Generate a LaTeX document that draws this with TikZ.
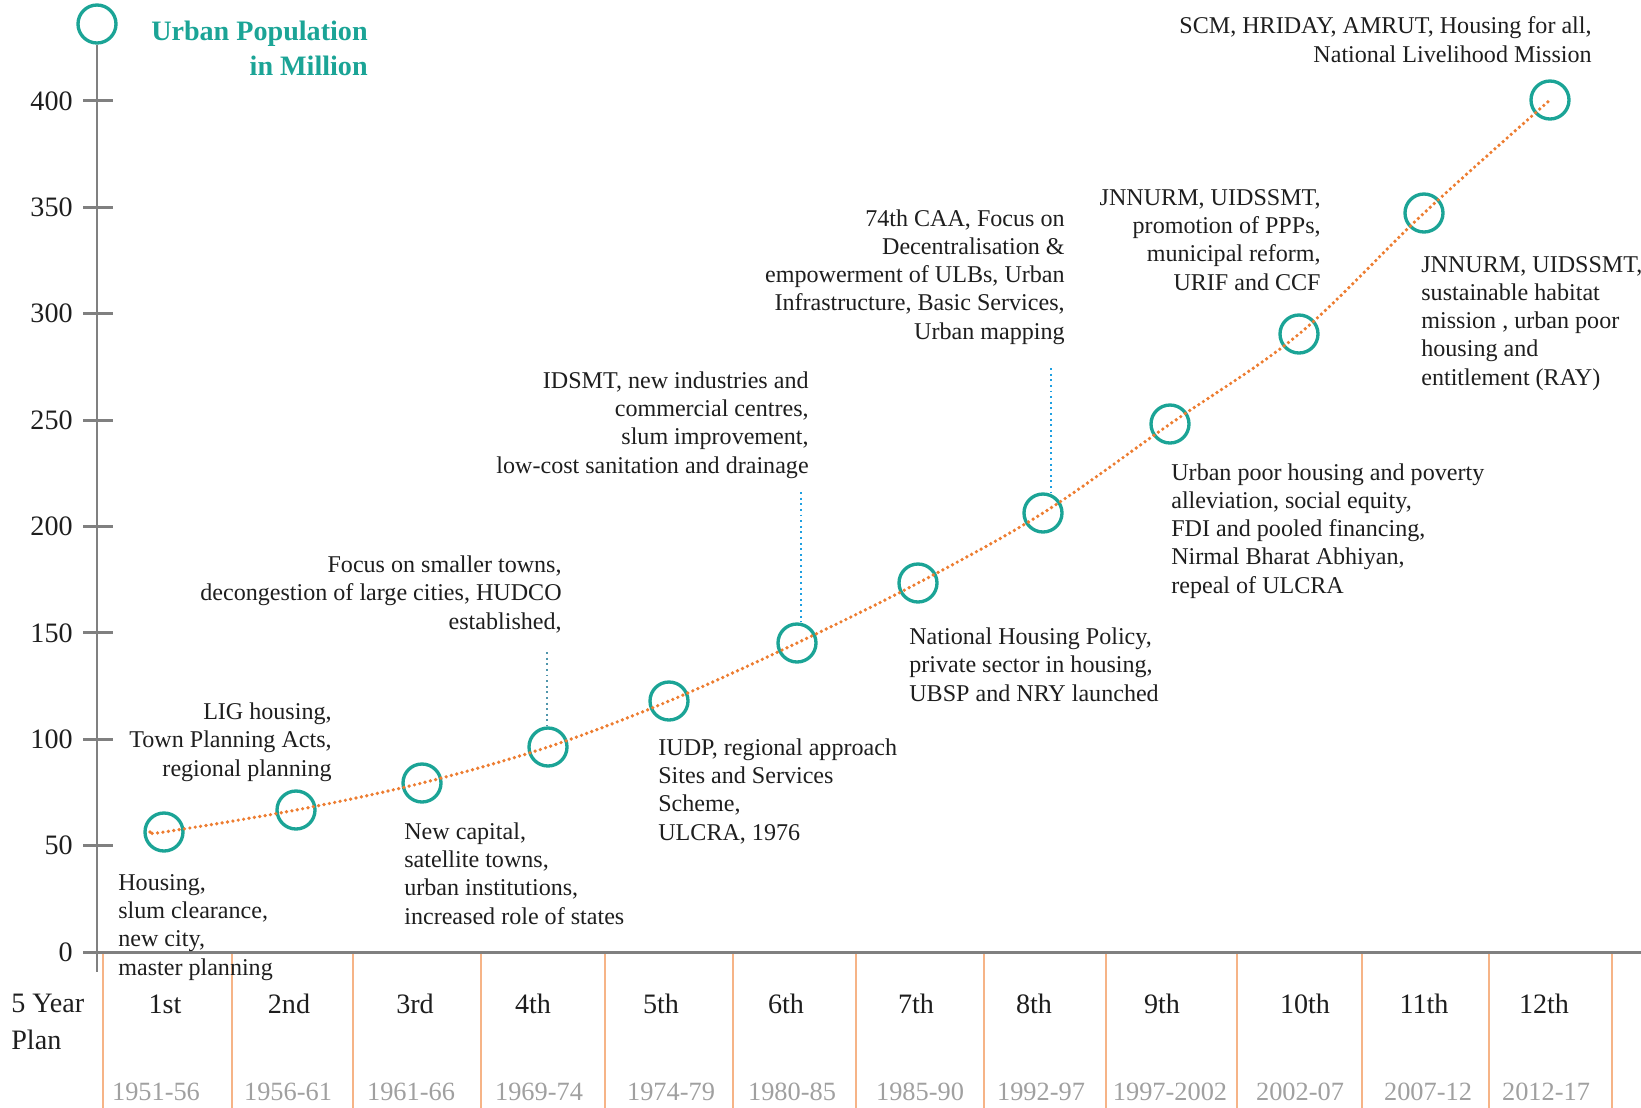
\documentclass[tikz,border=0pt]{standalone}
\usepackage{fontspec}
\setmainfont{Liberation Serif}
\definecolor{ringteal}{RGB}{27,164,150}
\definecolor{dotorange}{RGB}{237,125,49}
\definecolor{leaderblue}{RGB}{30,160,225}
\definecolor{leadersteel}{RGB}{80,150,172}
\definecolor{axisgray}{RGB}{128,128,128}
\definecolor{seporange}{RGB}{246,180,135}
\definecolor{yeargray}{RGB}{160,160,160}
\definecolor{inktext}{RGB}{30,30,30}

\begin{document}
\begin{tikzpicture}[x=0.2mm, y=-0.2mm,
    ring/.style={circle, draw=ringteal, line width=1.9pt, minimum size=7.6mm, inner sep=0pt},
    axis/.style={draw=axisgray, line width=1.7pt},
    sep/.style={draw=seporange, line width=1.1pt},
    trend/.style={draw=dotorange, line width=2.1pt, line cap=round, dash pattern=on 0pt off 3.1pt},
    leader/.style={draw=leaderblue, line width=1.1pt, dash pattern=on 1.1pt off 2.1pt},
    note/.style={font=\fontsize{13.7}{16}\selectfont, text=inktext, align=left, inner sep=0pt, anchor=base west},
    noteright/.style={note, align=right, anchor=base east},
    ticklabel/.style={font=\fontsize{16}{18}\selectfont, text=inktext, anchor=east, inner sep=0pt},
    plan/.style={font=\fontsize{16}{20.5}\selectfont, text=inktext, anchor=base, inner sep=0pt},
    years/.style={font=\fontsize{15}{17}\selectfont, text=yeargray, anchor=base, inner sep=0pt}]
    \useasboundingbox (0,0) rectangle (1641,1108);

    % Axes with the title circle on top
    % (multi-line nodes sit on the baseline of their last line)
    \node[ring] (ycap) at (97,24) {};
    \node[font=\bfseries\fontsize{16}{19.4}\selectfont, text=ringteal, align=right, anchor=base east, inner sep=0pt] (title) at (368,75) {Urban Population\\in Million};
    \coordinate (ybottom) at (97,972);
    \coordinate (xleft) at (83,952);
    \coordinate (xright) at (1641,952);
    \draw[axis] (ycap.south) -- (ybottom);
    \draw[axis] (xleft) -- (xright);

    % Ticks every 50 million
    \foreach \v in {0,50,...,400} {
        \node[ticklabel] (tick\v) at (73,{952-2.128*\v}) {\v};
        \draw[axis] (83,{952-2.128*\v}) -- (113,{952-2.128*\v});
    }

    % Plan columns
    \foreach \x in {103,232,353,481,605,733,856,984,1106,1237,1362,1489,1612}
        \draw[sep] (\x,954) -- (\x,1108);
    \node[plan, align=left, anchor=base west] (planhead) at (11,1049) {5 Year\\Plan};
    \foreach \xp/\xy/\p/\yr [count=\i] in {165/156/1st/1951-56, 289/288/2nd/1956-61, 415/411/3rd/1961-66,
        533/539/4th/1969-74, 661/671/5th/1974-79, 786/792/6th/1980-85, 916/920/7th/1985-90,
        1034/1041/8th/1992-97, 1162/1170/9th/1997-2002, 1305/1300/10th/2002-07,
        1424/1428/11th/2007-12, 1544/1546/12th/2012-17} {
        \node[plan] (plan\i) at (\xp,1013) {\p};
        \node[years] (years\i) at (\xy,1100) {\yr};
    }

    % Population at each plan
    \foreach \x/\y [count=\i] in {164/832, 296/810, 422/783, 548/747, 669/701, 797/643,
        918/583, 1043/513, 1170/424, 1299/334, 1424/213, 1550/100}
        \node[ring] (c\i) at (\x,\y) {};
    \coordinate (curvestart) at (150,832);
    \draw[trend] plot[smooth, tension=0.55] coordinates {(curvestart) (c1.center) (c2.center) (c3.center)
        (c4.center) (c5.center) (c6.center) (c7.center) (c8.center) (c9.center) (c10.center)
        (c11.center) (c12.center)};

    % Leaders from notes down to the circles
    \coordinate (lead4) at (547,652);
    \coordinate (lead6) at (801,492);
    \coordinate (lead8) at (1051,368);
    \draw[leader, draw=leadersteel] (lead4) -- (lead4 |- c4.north);
    \draw[leader] (lead6) -- (lead6 |- c6.north);
    \draw[leader] (lead8) -- (lead8 |- c8.north);

    % Policy notes
    \node[note] (n1) at (118,975) {Housing,\\slum clearance,\\new city,\\master planning};
    \node[noteright] (n2) at (332,776) {LIG housing,\\Town Planning Acts,\\regional planning};
    \node[note] (n3) at (404,924) {New capital,\\satellite towns,\\urban institutions,\\increased role of states};
    \node[noteright] (n4) at (562,629) {Focus on smaller towns,\\decongestion of large cities, HUDCO\\established,};
    \node[noteright] (n5) at (809,473) {IDSMT, new industries and\\commercial centres,\\slum improvement,\\low-cost sanitation and drainage};
    \node[note] (n6) at (658,840) {IUDP, regional approach\\Sites and Services\\Scheme,\\ULCRA, 1976};
    \node[noteright] (n7) at (1065,339) {74th CAA, Focus on\\Decentralisation \&\\empowerment of ULBs, Urban\\Infrastructure, Basic Services,\\Urban mapping};
    \node[note] (n8) at (909,701) {National Housing Policy,\\private sector in housing,\\UBSP and NRY launched};
    \node[noteright] (n9) at (1321,290) {JNNURM, UIDSSMT,\\promotion of PPPs,\\municipal reform,\\URIF and CCF};
    \node[note] (n10) at (1171,593) {Urban poor housing and poverty\\alleviation, social equity,\\FDI and pooled financing,\\Nirmal Bharat Abhiyan,\\repeal of ULCRA};
    \node[noteright] (n11) at (1592,62) {SCM, HRIDAY, AMRUT, Housing for all,\\National Livelihood Mission};
    \node[note] (n12) at (1421,385) {JNNURM, UIDSSMT,\\sustainable habitat\\mission , urban poor\\housing and\\entitlement (RAY)};
\end{tikzpicture}
\end{document}
